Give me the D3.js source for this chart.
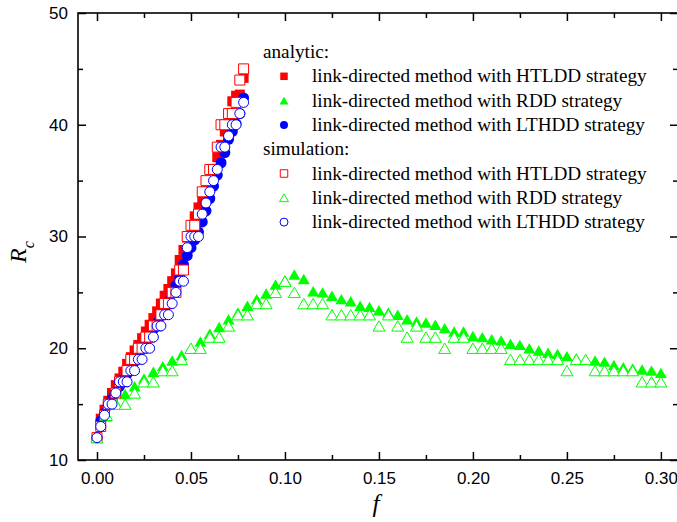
<!DOCTYPE html>
<html>
<head>
<meta charset="utf-8">
<script src="https://cdn.jsdelivr.net/npm/d3@7"></script>
<style>
  body { margin: 0; background: #fff; }
</style>
</head>
<body>
<div id="chart"></div>
<script>
// f values for the HTLDD / LTHDD runs (step 0.002)
const fLink = [0.000, 0.002, 0.004, 0.006, 0.008, 0.010, 0.012, 0.014, 0.016, 0.018,
               0.020, 0.022, 0.024, 0.026, 0.028, 0.030, 0.032, 0.034, 0.036, 0.038,
               0.040, 0.042, 0.044, 0.046, 0.048, 0.050, 0.052, 0.054, 0.056, 0.058,
               0.060, 0.062, 0.064, 0.066, 0.068, 0.070, 0.072, 0.074, 0.076, 0.078]

// f values for the RDD runs (step 0.005)
const fRdd = [0.000, 0.005, 0.010, 0.015, 0.020, 0.025, 0.030, 0.035, 0.040, 0.045,
              0.050, 0.055, 0.060, 0.065, 0.070, 0.075, 0.080, 0.085, 0.090, 0.095,
              0.100, 0.105, 0.110, 0.115, 0.120, 0.125, 0.130, 0.135, 0.140, 0.145,
              0.150, 0.155, 0.160, 0.165, 0.170, 0.175, 0.180, 0.185, 0.190, 0.195,
              0.200, 0.205, 0.210, 0.215, 0.220, 0.225, 0.230, 0.235, 0.240, 0.245,
              0.250, 0.255, 0.260, 0.265, 0.270, 0.275, 0.280, 0.285, 0.290, 0.295, 0.300]

// analytic
const htlddAnalytic = [12.0, 13.7, 14.5, 15.3, 16.0, 16.7, 17.3, 17.9, 18.6, 19.2,
                       19.8, 20.3, 20.9, 21.5, 22.1, 22.7, 23.3, 24.0, 24.7, 25.3,
                       26.0, 26.7, 27.9, 28.8, 29.9, 31.0, 31.8, 32.6, 33.3, 34.1,
                       34.9, 36.0, 37.1, 38.2, 39.4, 40.8, 42.1, 42.6, 42.7, 44.2]
const lthddAnalytic = [12.0, 13.5, 14.2, 14.9, 15.5, 16.1, 16.6, 17.2, 17.7, 18.3,
                       18.8, 19.4, 19.9, 20.5, 21.1, 21.7, 22.3, 22.9, 23.5, 24.2,
                       24.9, 25.6, 26.4, 27.5, 28.3, 29.0, 29.7, 30.4, 31.3, 32.3,
                       33.4, 34.5, 35.5, 36.6, 37.5, 38.7, 39.4, 40.1, 41.0, 42.4]
const rddAnalytic = [12.0, 13.9, 15.1, 15.9, 16.6, 17.3, 17.9, 18.4, 18.9, 19.4,
                     20.0, 20.6, 21.3, 21.9, 22.6, 23.2, 23.8, 24.4, 24.9, 25.7,
                     26.1, 26.6, 26.2, 25.1, 25.0, 24.7, 24.4, 24.2, 23.8, 23.7,
                     23.4, 23.2, 23.0, 22.6, 22.4, 22.3, 22.1, 21.8, 21.5, 21.5,
                     21.1, 21.0, 20.8, 20.7, 20.4, 20.3, 20.0, 19.8, 19.6, 19.5,
                     19.3, 19.1, 19.0, 18.9, 18.8, 18.5, 18.3, 18.2, 18.1, 18.0, 17.8]

// simulation
const htlddSim = [12, 13, 14, 15, 15, 16, 17, 17, 18, 19,
                  19, 20, 20, 21, 21, 22, 22, 23, 24, 24,
                  25, 25, 27, 27, 30, 31, 31, 32, 34, 35,
                  36, 36, 38, 40, 40, 41, 41, 42, 44, 45]
const lthddSim = [12, 13, 14, 15, 15, 16, 17, 17, 17, 18,
                  18, 19, 19, 20, 20, 21, 22, 22, 23, 23,
                  24, 25, 26, 26, 29, 30, 30, 30, 32, 33,
                  34, 35, 36, 38, 38, 39, 40, 40, 41, 42]
const rddSim = [12, 14, 15, 15, 16, 17, 17, 18, 18, 19,
                20, 20, 21, 21, 22, 23, 23, 24, 24, 25,
                26, 25, 24, 24, 24, 23, 23, 23, 23, 23,
                22, 23, 22, 21, 22, 21, 21, 20, 21, 21,
                20, 20, 20, 20, 19, 19, 19, 19, 19, 19,
                18, 19, 19, 18, 18, 18, 18, 18, 17, 17, 17]

const xMajor = [0, 0.05, 0.10, 0.15, 0.20, 0.25, 0.30]
const xMinor = [0.025, 0.075, 0.125, 0.175, 0.225, 0.275]
const yMajor = [10, 20, 30, 40, 50]
const yMinor = [15, 25, 35, 45]

const legendLabels = ["link-directed method with HTLDD strategy",
                      "link-directed method with RDD strategy",
                      "link-directed method with LTHDD strategy"]

const red = "#ff0000", green = "#00ff00", blue = "#0000ff"

const width = 677, height = 522
const plotLeft = 78, plotRight = 678, plotTop = 13, plotBottom = 460

const svg = d3.select("#chart").append("svg")
    .attr("width", width)
    .attr("height", height)

const x = d3.scaleLinear().domain([-0.0101, 0.3091]).range([plotLeft, plotRight])
const y = d3.scaleLinear().domain([10, 50]).range([plotBottom, plotTop])

// symbol paths centred on (0,0)
const square = s => `M${-s/2},${-s/2}h${s}v${s}h${-s}Z`
const triangle = s => {
    const h = s * 0.866
    return `M0,${-h/2}L${s/2},${h/2}L${-s/2},${h/2}Z`
}
const circle = s => d3.symbol(d3.symbolCircle, Math.PI * s * s / 4)()

function series(fs, vals, shape, size, color, filled) {
    svg.append("g")
        .selectAll("path")
        .data(fs.map((f, i) => [f, vals[i]]))
        .join("path")
            .attr("transform", d => `translate(${x(d[0])},${y(d[1])})`)
            .attr("d", shape(size))
            .attr("fill", filled ? color : "#fff")
            .attr("stroke", color)
            .attr("stroke-width", filled ? 0 : 1)
}

series(fLink, htlddAnalytic, square, 10, red, true)
series(fRdd, rddAnalytic, triangle, 12, green, true)
series(fLink, lthddAnalytic, circle, 11, blue, true)
series(fLink, htlddSim, square, 10, red, false)
series(fRdd, rddSim, triangle, 12, green, false)
series(fLink, lthddSim, circle, 10, blue, false)

// axes
const tickFont = "'Liberation Sans', Arial, sans-serif"

function styleAxis(g) {
    g.select(".domain").remove()
    g.selectAll("line").attr("stroke", "#000").attr("stroke-width", 1.5)
    g.selectAll("text").attr("font-family", tickFont).attr("font-size", 17).attr("fill", "#000")
}

svg.append("g").attr("transform", `translate(0,${plotBottom})`)
    .call(d3.axisBottom(x).tickValues(xMajor).tickSize(-8).tickPadding(12).tickFormat(d3.format(".2f")))
    .call(styleAxis)
svg.append("g").attr("transform", `translate(0,${plotBottom})`)
    .call(d3.axisBottom(x).tickValues(xMinor).tickSize(-5).tickFormat(""))
    .call(styleAxis)
svg.append("g").attr("transform", `translate(0,${plotTop})`)
    .call(d3.axisTop(x).tickValues(xMajor).tickSize(-8).tickFormat(""))
    .call(styleAxis)
svg.append("g").attr("transform", `translate(0,${plotTop})`)
    .call(d3.axisTop(x).tickValues(xMinor).tickSize(-5).tickFormat(""))
    .call(styleAxis)

svg.append("g").attr("transform", `translate(${plotLeft},0)`)
    .call(d3.axisLeft(y).tickValues(yMajor).tickSize(-8).tickPadding(10))
    .call(styleAxis)
svg.append("g").attr("transform", `translate(${plotLeft},0)`)
    .call(d3.axisLeft(y).tickValues(yMinor).tickSize(-5).tickFormat(""))
    .call(styleAxis)
svg.append("g").attr("transform", `translate(${plotRight},0)`)
    .call(d3.axisRight(y).tickValues(yMajor).tickSize(-8).tickFormat(""))
    .call(styleAxis)
svg.append("g").attr("transform", `translate(${plotRight},0)`)
    .call(d3.axisRight(y).tickValues(yMinor).tickSize(-5).tickFormat(""))
    .call(styleAxis)

svg.append("rect")
    .attr("x", plotLeft).attr("y", plotTop)
    .attr("width", plotRight - plotLeft).attr("height", plotBottom - plotTop)
    .attr("fill", "none")
    .attr("stroke", "#000")
    .attr("stroke-width", 1.6)

// axis titles
const serif = "'Liberation Serif', 'Times New Roman', serif"

svg.append("text")
    .attr("x", 376).attr("y", 512)
    .attr("text-anchor", "middle")
    .attr("font-family", serif)
    .attr("font-style", "italic")
    .attr("font-size", 25)
    .text("f")

const yTitle = svg.append("text")
    .attr("transform", "translate(26,263) rotate(-90)")
    .attr("font-family", serif)
    .attr("font-style", "italic")
    .attr("font-size", 24)
yTitle.append("tspan").text("R")
yTitle.append("tspan").attr("dy", 8).attr("font-size", 16).text("c")

// legend
const legend = svg.append("g").attr("font-family", serif).attr("font-size", 19.2)
const rowH = 24.3, row0 = 52
const legendRows = [
    {head: "analytic:"},
    {shape: square, size: 7.5, color: red, filled: true, label: legendLabels[0]},
    {shape: triangle, size: 9, color: green, filled: true, label: legendLabels[1]},
    {shape: circle, size: 8, color: blue, filled: true, label: legendLabels[2]},
    {head: "simulation:"},
    {shape: square, size: 7.5, color: red, filled: false, label: legendLabels[0]},
    {shape: triangle, size: 9, color: green, filled: false, label: legendLabels[1]},
    {shape: circle, size: 8, color: blue, filled: false, label: legendLabels[2]}
]

legendRows.forEach((r, i) => {
    const cy = row0 + i * rowH
    if (r.head) {
        legend.append("text").attr("x", 263).attr("y", cy).attr("dy", "0.32em").text(r.head)
        return
    }
    legend.append("path")
        .attr("transform", `translate(284,${cy})`)
        .attr("d", r.shape(r.size))
        .attr("fill", r.filled ? r.color : "#fff")
        .attr("stroke", r.color)
        .attr("stroke-width", r.filled ? 0 : 1)
    legend.append("text").attr("x", 312).attr("y", cy).attr("dy", "0.32em").text(r.label)
})
</script>
</body>
</html>
